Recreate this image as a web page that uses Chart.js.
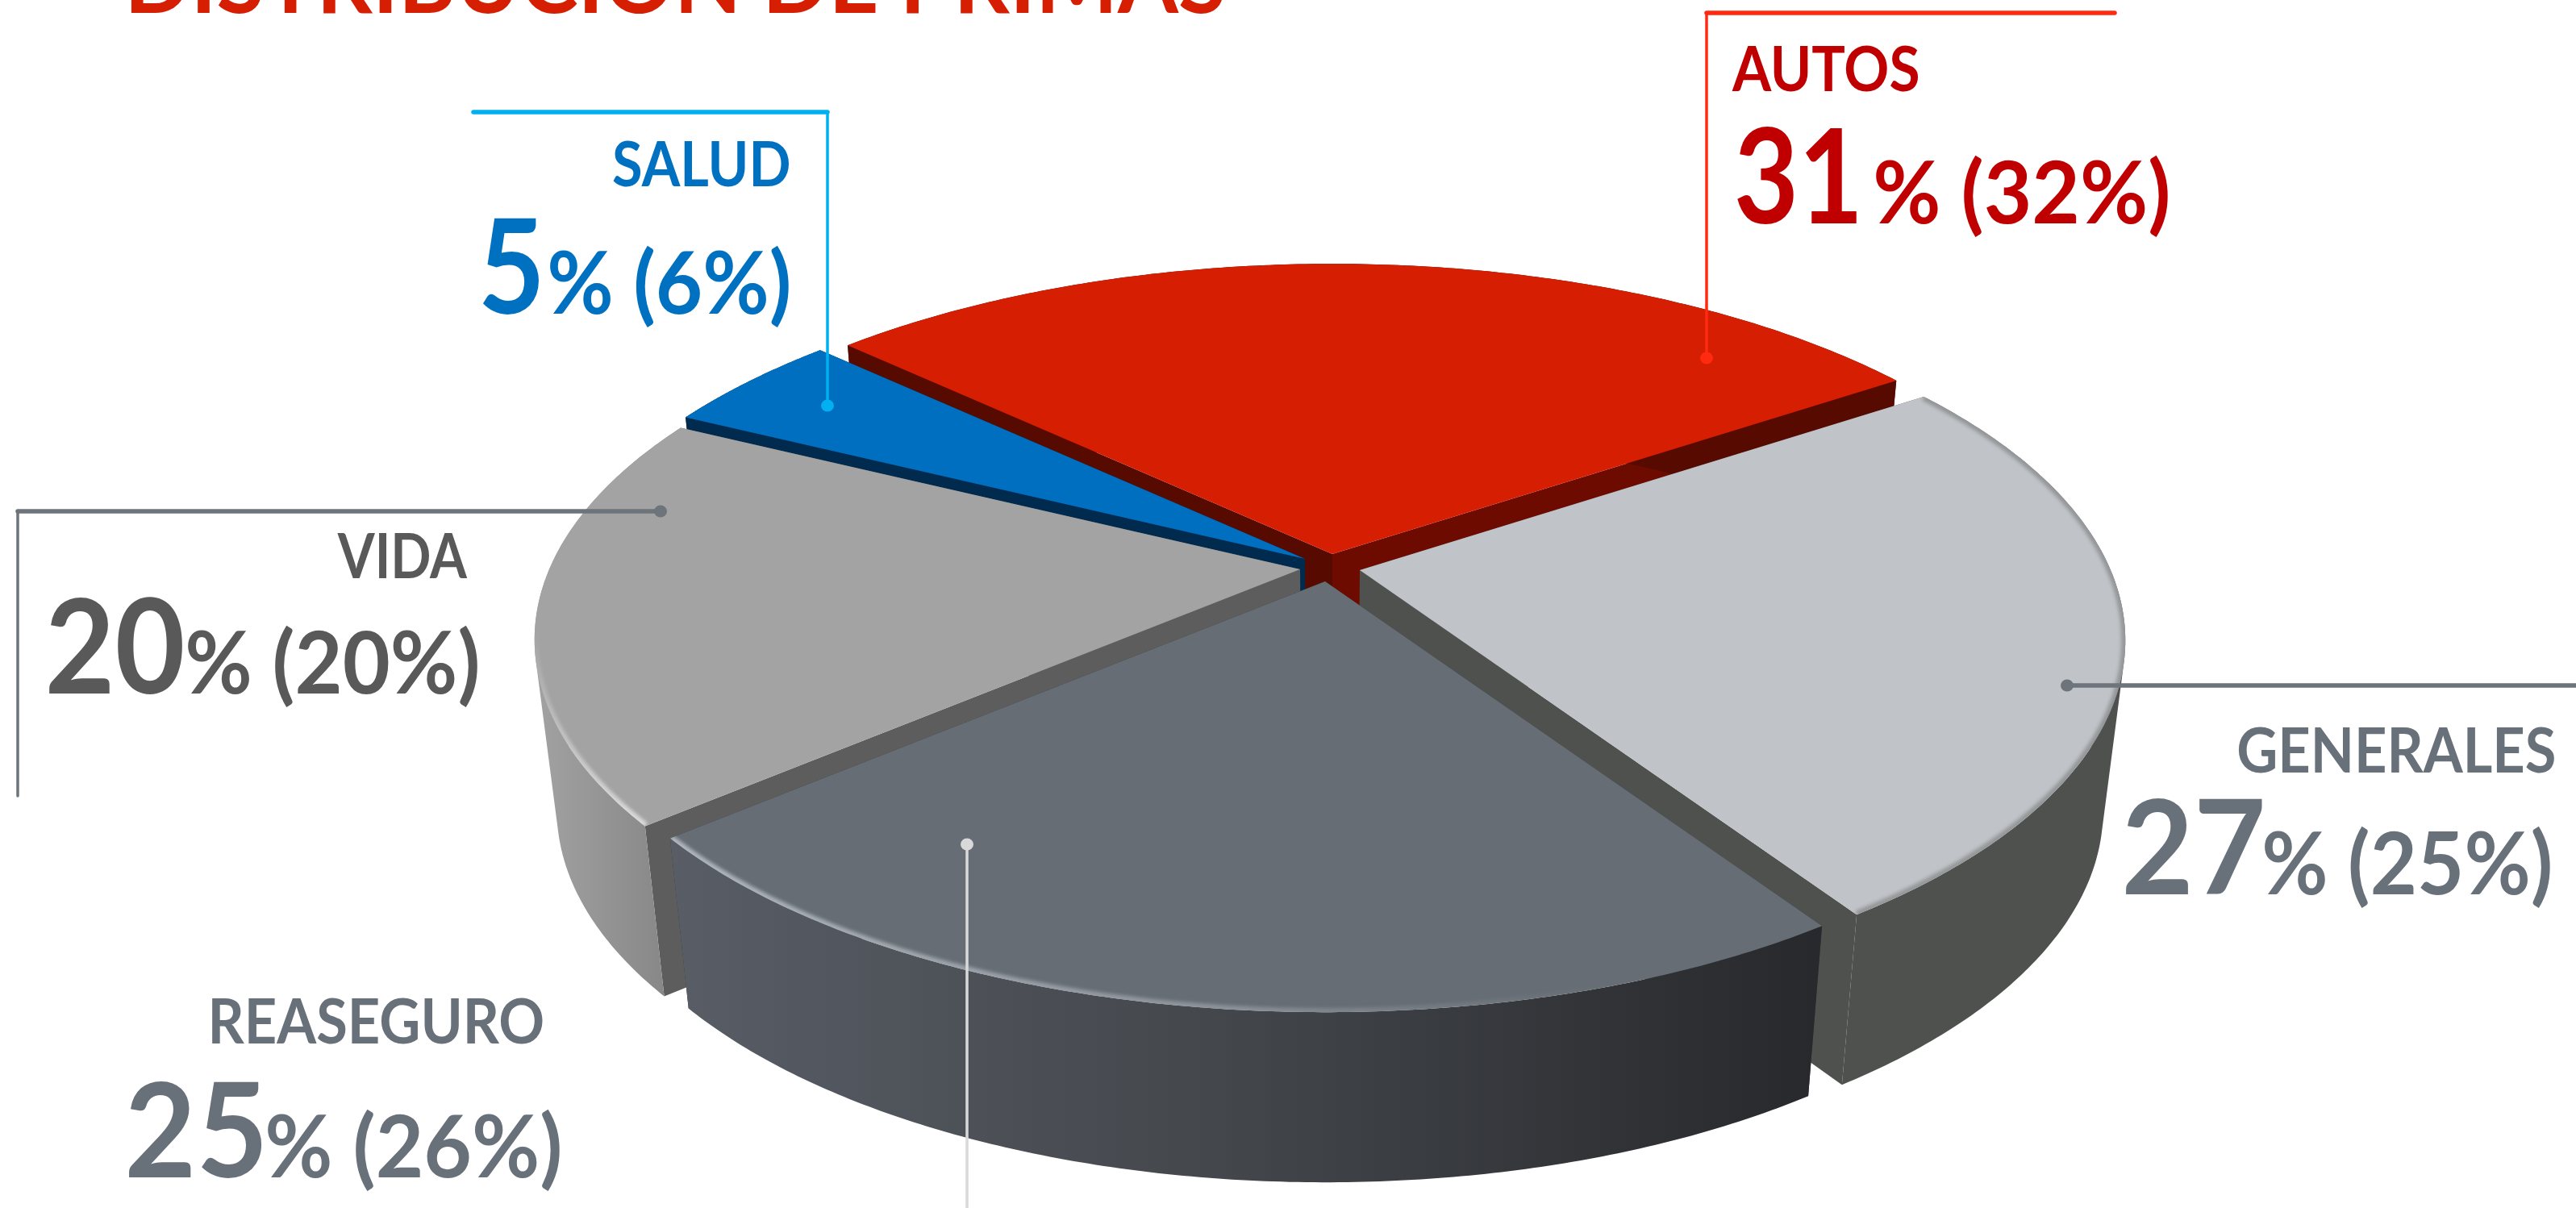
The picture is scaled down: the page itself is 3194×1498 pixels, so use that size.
<!DOCTYPE html>
<html>
<head>
<meta charset="utf-8">
<title>Distribución de primas</title>
<script src="https://cdn.jsdelivr.net/npm/chart.js@4"></script>
<style>
  html, body { margin: 0; padding: 0; background: #fff; overflow: hidden; }
  #wrap { position: relative; width: 3194px; height: 1498px; }
</style>
</head>
<body>
<div id="wrap"><canvas id="chart"></canvas></div>
<script>
const titulo = 'DISTRIBUCIÓN DE PRIMAS';
const categorias = ['AUTOS', 'GENERALES', 'REASEGURO', 'VIDA', 'SALUD'];
const primas = [31, 27, 25, 20, 5];
const primasPrevias = [32, 25, 26, 20, 6];

// look of each slice, same order as categorias
const topColors = ['#d61e03', '#c0c3c7', '#666d74', '#a3a3a3', '#006fc0'];
const sideColors = ['#570b00', '#4f514f', '#33363a', '#5d5d5d', '#002b4f'];
const sideColors2 = ['#6e0b00', '#4f514f', '#33363a', '#5d5d5d', '#002b4f'];
const textColors = ['#c00000', '#68707a', '#68707a', '#595959', '#0070c0'];
const lineColors = ['#ff2a0f', '#6d747b', '#d9d9d9', '#6d747b', '#00b0f0'];
// where each exploded slice has its tip on screen
const tips = [[1652, 687], [1686, 707], [1643, 721], [1612, 706], [1618, 693]];
// back to front
const drawOrder = [0, 4, 3, 1, 2];

// the tilted disc, fitted by eye to the reference
const discX = 931, discY = 430, tilt = 0.195;
const depth = 211, baseShrink = 0.972, vanishX = 1650;

// name [x, baseline, width], number [x, baseline, width], rest [x, width]
const nameBoxes = [[2147, 113, 231], [2775, 958, 392], [263, 1294, 410], [418, 717, 162], [760, 231, 218]];
const numberBoxes = [[2154, 277, 148], [2636, 1109, 169], [160, 1460, 164], [61, 860, 165], [599, 389, 69]];
const restBoxes = [[2326, 362], [2808, 354], [332, 362], [233, 359], [682, 296]];
// leader lines, from the dot on the slice to the far end
const leaders = [
  [[2116, 444], [2116, 16], [2622, 16]],
  [[2563, 850], [3194, 850]],
  [[1199, 1047], [1199, 1498]],
  [[819, 634], [22, 634], [22, 987]],
  [[1026, 503], [1026, 139], [587, 139]]
];

function project(i, angle) {
  const u = Math.cos(angle), v = Math.sin(angle);
  const w = 1 - tilt * v;
  return [tips[i][0] + discX * u / w, tips[i][1] + discY * v / w];
}
function lower(p) {
  return [vanishX + (p[0] - vanishX) * baseShrink, p[1] + depth];
}
function polygon(ctx, pts) {
  ctx.beginPath();
  pts.forEach((p, n) => n ? ctx.lineTo(p[0], p[1]) : ctx.moveTo(p[0], p[1]));
  ctx.closePath();
}
function rimPoints(i, arc) {
  const pts = [];
  const steps = 160;
  for (let n = 0; n <= steps; n++) {
    pts.push(project(i, arc.startAngle + (arc.endAngle - arc.startAngle) * n / steps));
  }
  return pts;
}
// outer wall as one path of small quads, all wound the same way so the fill is their union
function wallPath(ctx, rim) {
  ctx.beginPath();
  for (let n = 0; n < rim.length - 1; n++) {
    let quad = [rim[n], rim[n + 1], lower(rim[n + 1]), lower(rim[n])];
    let area = 0;
    quad.forEach((p, k) => {
      const q = quad[(k + 1) % 4];
      area += p[0] * q[1] - q[0] * p[1];
    });
    if (area < 0) quad = quad.reverse();
    quad.forEach((p, k) => k ? ctx.lineTo(p[0], p[1]) : ctx.moveTo(p[0], p[1]));
    ctx.closePath();
  }
}
function wallFill(ctx, i) {
  if (i === 2) {
    const g = ctx.createLinearGradient(835, 0, 2250, 0);
    g.addColorStop(0, '#585d66');
    g.addColorStop(0.45, '#45484d');
    g.addColorStop(1, '#27292c');
    return g;
  }
  if (i === 3) {
    const g = ctx.createLinearGradient(665, 0, 840, 0);
    g.addColorStop(0, '#a2a2a2');
    g.addColorStop(1, '#858585');
    return g;
  }
  return sideColors[i];
}
function rimStroke(ctx, i) {
  if (i === 2) {
    const g = ctx.createLinearGradient(835, 0, 2000, 0);
    g.addColorStop(0, 'rgba(190,196,204,0.85)');
    g.addColorStop(0.6, 'rgba(170,176,184,0.55)');
    g.addColorStop(1, 'rgba(150,155,160,0)');
    return g;
  }
  if (i === 3) {
    const g = ctx.createLinearGradient(0, 780, 0, 1020);
    g.addColorStop(0, 'rgba(225,225,225,0)');
    g.addColorStop(1, 'rgba(225,225,225,0.9)');
    return g;
  }
  if (i === 1) return 'rgba(95,98,98,0.45)';
  return null;
}

const pie3d = {
  id: 'pie3d',
  // replaces the flat arcs: angles still come from the library's arc elements
  beforeDatasetsDraw(chart) {
    const ctx = chart.ctx;
    const arcs = chart.getDatasetMeta(0).data;
    drawOrder.forEach(i => {
      const arc = arcs[i].getProps(['startAngle', 'endAngle'], true);
      const rim = rimPoints(i, arc);
      const first = rim[0], last = rim[rim.length - 1];
      const tip = tips[i];

      ctx.fillStyle = sideColors[i];
      polygon(ctx, [tip, first, lower(first), lower(tip)]);
      ctx.fill();
      ctx.fillStyle = sideColors2[i];
      polygon(ctx, [tip, last, lower(last), lower(tip)]);
      ctx.fill();

      ctx.fillStyle = wallFill(ctx, i);
      wallPath(ctx, rim);
      ctx.fill();

      ctx.fillStyle = topColors[i];
      polygon(ctx, [tip].concat(rim));
      ctx.fill();

      const rimColor = rimStroke(ctx, i);
      if (rimColor) {
        ctx.save();
        polygon(ctx, [tip].concat(rim));
        ctx.clip();
        ctx.filter = 'blur(2px)';
        ctx.strokeStyle = rimColor;
        ctx.lineWidth = 10;
        ctx.beginPath();
        rim.forEach((p, n) => n ? ctx.lineTo(p[0], p[1]) : ctx.moveTo(p[0], p[1]));
        ctx.stroke();
        ctx.restore();
      }
    });
    return false;
  },
  afterDraw(chart) {
    const ctx = chart.ctx;
    ctx.save();
    categorias.forEach((name, i) => {
      const pts = leaders[i];
      ctx.strokeStyle = lineColors[i];
      ctx.fillStyle = lineColors[i];
      ctx.lineCap = 'round';
      for (let n = 0; n < pts.length - 1; n++) {
        // horizontal runs are a bit heavier than the vertical ones in the original
        ctx.lineWidth = pts[n][1] === pts[n + 1][1] ? 5.5 : 3.5;
        ctx.beginPath();
        ctx.moveTo(pts[n][0], pts[n][1]);
        ctx.lineTo(pts[n + 1][0], pts[n + 1][1]);
        ctx.stroke();
      }
      ctx.beginPath();
      ctx.ellipse(pts[0][0], pts[0][1], 8, 7.5, 0, 0, Math.PI * 2);
      ctx.fill();

      const color = textColors[i];
      fitText(ctx, name, nameBoxes[i][0], nameBoxes[i][1], nameBoxes[i][2], '700 76px Lato', color);
      fitText(ctx, String(primas[i]), numberBoxes[i][0], numberBoxes[i][1], numberBoxes[i][2], '700 162px Lato', color);
      fitText(ctx, '% (' + primasPrevias[i] + '%)', restBoxes[i][0], numberBoxes[i][1], restBoxes[i][1], '700 108px Lato', color);
    });
    // the title runs off the top edge in the original
    fitText(ctx, titulo, 163, 16, 1354, '700 112px Lato', '#d61e03');
    ctx.restore();
  }
};

// stretches the ink of the text to the measured box
function fitText(ctx, text, x, y, width, font, color) {
  ctx.save();
  ctx.font = font;
  ctx.fillStyle = color;
  ctx.textAlign = 'left';
  ctx.textBaseline = 'alphabetic';
  const m = ctx.measureText(text);
  const ink = m.actualBoundingBoxLeft + m.actualBoundingBoxRight;
  ctx.translate(x, y);
  ctx.scale(width / ink, 1);
  ctx.fillText(text, m.actualBoundingBoxLeft, 0);
  ctx.restore();
}

new Chart(document.getElementById('chart'), {
  type: 'pie',
  data: {
    labels: categorias,
    datasets: [{ label: 'Primas', data: primas, backgroundColor: topColors, borderWidth: 0 }]
  },
  options: {
    responsive: true,
    maintainAspectRatio: false,
    animation: false,
    rotation: -47,
    plugins: { legend: { display: false }, tooltip: { enabled: false } }
  },
  plugins: [pie3d]
});
</script>
</body>
</html>
